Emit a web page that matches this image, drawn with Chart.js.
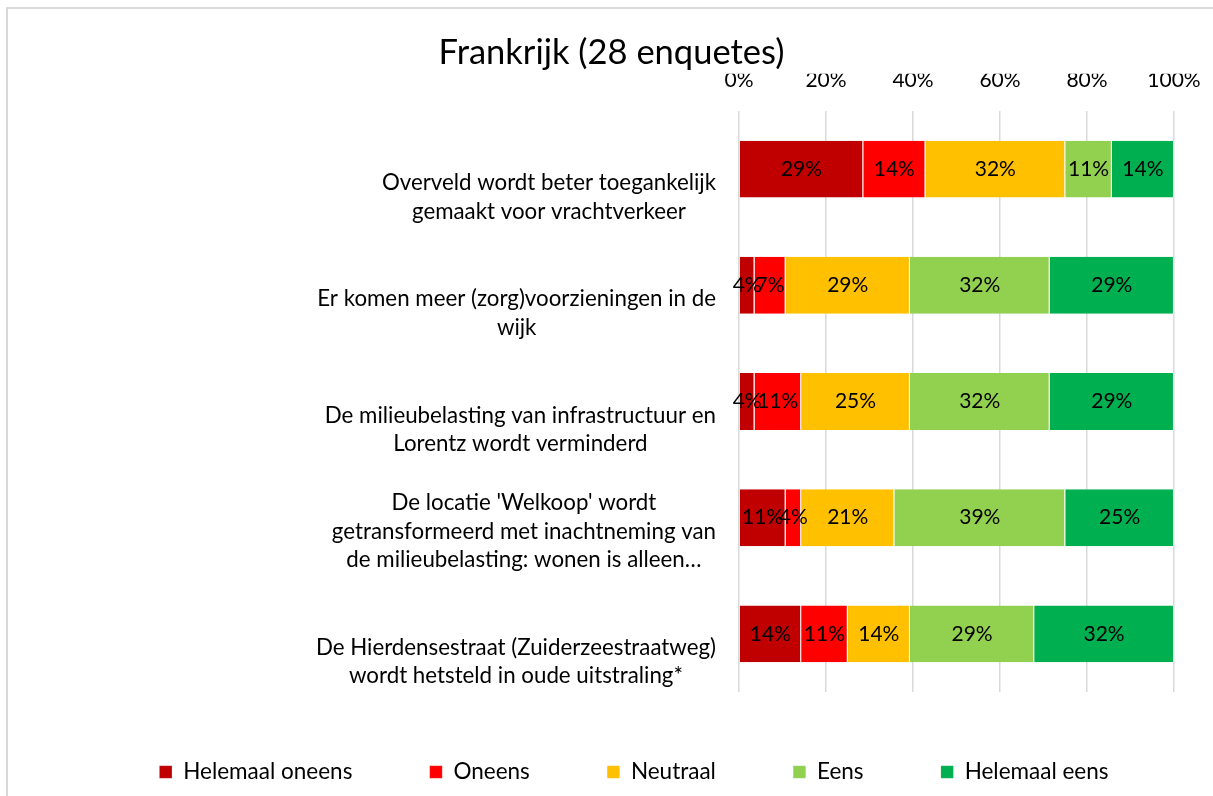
<!DOCTYPE html>
<html>
<head>
<meta charset="utf-8">
<script src="https://cdn.jsdelivr.net/npm/chart.js@4.4.1/dist/chart.umd.min.js"></script>
<style>
  html, body { margin: 0; padding: 0; background: #ffffff; }
  #wrap { width: 1213px; height: 796px; }
</style>
</head>
<body>
<div id="wrap"><canvas id="c" width="1213" height="796"></canvas></div>
<script>
// ---- data ----
const titleText = 'Frankrijk (28 enquetes)';
const categories = [
  ['Overveld wordt beter toegankelijk', 'gemaakt voor vrachtverkeer'],
  ['Er komen meer (zorg)voorzieningen in de', 'wijk'],
  ['De milieubelasting van infrastructuur en', 'Lorentz wordt verminderd'],
  ["De locatie 'Welkoop' wordt", 'getransformeerd met inachtneming van', 'de milieubelasting: wonen is alleen…'],
  ['De Hierdensestraat (Zuiderzeestraatweg)', 'wordt hetsteld in oude uitstraling*']
];
const seriesNames = ['Helemaal oneens', 'Oneens', 'Neutraal', 'Eens', 'Helemaal eens'];
const helemaalOneens = [28.57, 3.57, 3.57, 10.71, 14.29];
const oneens         = [14.29, 7.14, 10.71, 3.57, 10.71];
const neutraal       = [32.14, 28.57, 25.00, 21.43, 14.29];
const eens           = [10.71, 32.14, 32.14, 39.29, 28.57];
const helemaalEens   = [14.29, 28.57, 28.57, 25.00, 32.14];
const xTickValues = [0, 20, 40, 60, 80, 100];

// ---- styles ----
const seriesColors = ['#C00000', '#FF0000', '#FFC000', '#92D050', '#00B050'];
const FONT = 'Lato';
const CAT_FONT_SIZE = 22.3;
const LEGEND_FONT_SIZE = 22.5;
const NUM_FONT_SIZE = 21;

const seriesData = [helemaalOneens, oneens, neutraal, eens, helemaalEens];

const framePlugin = {
  id: 'frame',
  beforeDraw(chart) {
    const c = chart.ctx;
    c.save();
    c.fillStyle = '#ffffff';
    c.fillRect(0, 0, chart.width, chart.height);
    c.strokeStyle = '#d9d9d9';
    c.lineWidth = 2;
    c.beginPath();
    c.moveTo(7, chart.height);
    c.lineTo(7, 8);
    c.lineTo(chart.width, 8);
    c.stroke();
    c.restore();
  }
};

const placeBoxes = {
  id: 'placeBoxes',
  afterLayout(chart) {
    const t = chart.titleBlock;
    if (t) { t.left += 5; t.right += 5; }
    const l = chart.legend;
    if (l) { l.left += 27.5; l.right += 27.5; l.top -= 8.55; l.bottom -= 8.55; }
  }
};

const catLabels = {
  id: 'catLabels',
  afterDraw(chart) {
    const y = chart.scales.y;
    const c = chart.ctx;
    c.save();
    c.font = CAT_FONT_SIZE + 'px ' + FONT;
    c.fillStyle = '#000000';
    c.textAlign = 'center';
    c.textBaseline = 'alphabetic';
    categories.forEach((lines, i) => {
      const cy = y.getPixelForValue(i);
      const w = Math.max(...lines.map(s => c.measureText(s).width));
      const cx = 716 - w / 2;
      lines.forEach((s, k) => {
        c.fillText(s, cx, cy + 49.5 - (lines.length - 1 - k) * 28.5);
      });
    });
    c.restore();
  }
};

const barLabels = {
  id: 'barLabels',
  afterDatasetsDraw(chart) {
    const c = chart.ctx;
    c.save();
    c.font = NUM_FONT_SIZE + 'px ' + FONT;
    c.fillStyle = '#000000';
    c.textAlign = 'center';
    c.textBaseline = 'middle';
    chart.data.datasets.forEach((ds, di) => {
      const meta = chart.getDatasetMeta(di);
      meta.data.forEach((el, i) => {
        const p = el.getCenterPoint();
        c.fillText(Math.round(ds.data[i]) + '%', p.x, p.y);
      });
    });
    c.restore();
  }
};

new Chart(document.getElementById('c'), {
  type: 'bar',
  data: {
    labels: categories.map(l => l.join(' ')),
    datasets: seriesNames.map((name, i) => ({
      label: name,
      data: seriesData[i],
      backgroundColor: seriesColors[i],
      borderColor: 'rgba(255,255,255,0.45)',
      borderWidth: { left: 0, right: 1, top: 0, bottom: 0 },
      borderSkipped: false,
      barPercentage: 0.49,
      categoryPercentage: 1
    }))
  },
  options: {
    indexAxis: 'y',
    responsive: false,
    animation: false,
    devicePixelRatio: 1,
    layout: { padding: { left: 0, right: 0, top: 0, bottom: -5.8 } },
    plugins: {
      title: {
        display: true,
        text: titleText,
        color: '#000000',
        font: { family: FONT, size: 34.5, weight: 'normal' },
        padding: { top: 32.3, bottom: 0 }
      },
      legend: {
        position: 'bottom',
        labels: {
          color: '#000000',
          font: { family: FONT, size: LEGEND_FONT_SIZE },
          boxWidth: 12.5,
          boxHeight: 12.5,
          padding: 77.3
        }
      },
      tooltip: { enabled: false }
    },
    scales: {
      x: {
        type: 'linear',
        position: 'top',
        stacked: true,
        min: 0,
        max: 100,
        afterBuildTicks(s) { s.ticks = xTickValues.map(v => ({ value: v })); },
        ticks: {
          padding: 18.4,
          color: '#000000',
          font: { family: FONT, size: NUM_FONT_SIZE },
          callback: v => v + '%',
          maxRotation: 0,
          autoSkip: false
        },
        grid: { color: '#d9d9d9', lineWidth: 1.5, drawTicks: false },
        border: { display: false },
        afterFit(s) { s.height = 37.3; s.paddingRight = 39; }
      },
      y: {
        stacked: true,
        ticks: { display: false },
        grid: { display: false },
        border: { display: false },
        afterFit(s) { s.width = 739; }
      }
    }
  },
  plugins: [framePlugin, placeBoxes, catLabels, barLabels]
});
</script>
</body>
</html>
